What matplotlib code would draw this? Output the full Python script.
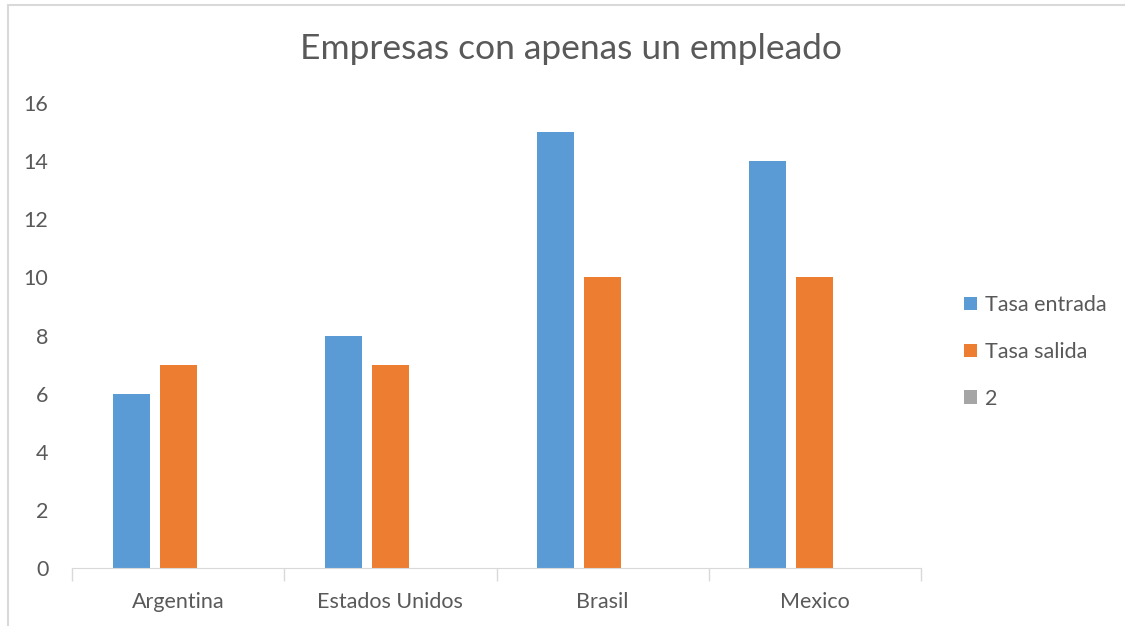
import numpy as np
import matplotlib.pyplot as plt
from matplotlib.patches import Rectangle

paises = ["Argentina", "Estados Unidos", "Brasil", "Mexico"]
tasa_entrada = [6, 8, 15, 14]
tasa_salida = [7, 7, 10, 10]
serie_2 = [0, 0, 0, 0]

plt.rcParams['font.family'] = ['Lato', 'DejaVu Sans']
gris_texto = '#595959'

fig = plt.figure(figsize=(11.25, 6.26), dpi=100)
ax = fig.add_axes([72 / 1125, 58 / 626, (921 - 72) / 1125, (568 - 103) / 626])

x = np.arange(len(paises))
w = 37 / 212
paso = 47 / 212
ax.bar(x - paso, tasa_entrada, w, color='#5B9BD5', label='Tasa entrada')
ax.bar(x, tasa_salida, w, color='#ED7D31', label='Tasa salida')
ax.bar(x + paso, serie_2, w, color='#A5A5A5', label='2')

ax.set_xlim(-0.5, len(paises) - 0.5)
ax.set_ylim(0, 16)
ax.set_yticks(range(0, 17, 2))
ax.set_xticks(x)
ax.set_xticklabels(paises)
ax.set_xticks(np.arange(-0.5, len(paises)), minor=True)
ax.tick_params(axis='x', which='major', length=0, pad=17, labelsize=15.5, labelcolor=gris_texto)
ax.tick_params(axis='x', which='minor', length=9, color='#D9D9D9', width=1)
ax.tick_params(axis='y', length=0, pad=17, labelsize=15.5, labelcolor=gris_texto)
for lado in ['top', 'right', 'left']:
    ax.spines[lado].set_visible(False)
ax.spines['bottom'].set_color('#D9D9D9')

fig.text(571 / 1125, 1 - 49 / 626, 'Empresas con apenas un empleado',
         ha='center', va='center', fontsize=25.5, color=gris_texto)

ax.legend(loc='center left', bbox_to_anchor=(945 / 1125, 1 - 352 / 626),
          bbox_transform=fig.transFigure, frameon=False, fontsize=15.5,
          labelcolor=gris_texto, handlelength=0.6, handleheight=0.6,
          handletextpad=0.35, labelspacing=1.25)

fig.patches.append(Rectangle((8 / 1125, -0.1), 1.2, 0.1 + (626 - 5) / 626,
                             transform=fig.transFigure, fill=False,
                             edgecolor='#D9D9D9', linewidth=1.5))

plt.savefig('out.png', dpi=100)
